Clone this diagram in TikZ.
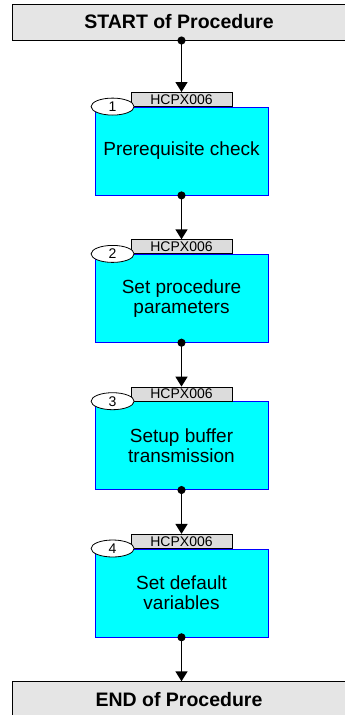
\documentclass[tikz,border=0pt]{standalone}
\usepackage{fontspec}
\setmainfont{Liberation Sans}
\usepackage{tikz}
\usetikzlibrary{arrows.meta,positioning,shapes.geometric}
\definecolor{procgray}{RGB}{229,229,229}
\definecolor{taggray}{RGB}{220,220,220}
\definecolor{stepcyan}{RGB}{0,255,255}
\definecolor{stepblue}{RGB}{0,0,255}

\begin{document}
\begin{tikzpicture}[x=1pt, y=1pt,
          endbox/.style={draw=black, fill=procgray, line width=1pt,
                         minimum width=334pt, minimum height=36pt,
                         font=\fontsize{19.5}{21}\selectfont\bfseries},
          stepbox/.style={draw=stepblue, fill=stepcyan, line width=0.8pt,
                          minimum width=173pt, minimum height=88pt, align=center,
                          font=\fontsize{19}{20}\selectfont},
          tag/.style={draw=black, fill=taggray, line width=0.6pt, inner sep=0pt,
                      minimum width=101pt, minimum height=14pt,
                      font=\fontsize{14}{14}\selectfont},
          num/.style={ellipse, draw=black, fill=white, line width=0.8pt, inner sep=0pt,
                      minimum width=43pt, minimum height=17pt,
                      font=\fontsize{14}{14}\selectfont},
          arr/.style={{Circle[length=8pt]}-{Triangle[length=10pt, width=12pt]},
                      shorten <=-4pt, line width=1.6pt}
        ]
          \useasboundingbox (0,0) rectangle (345,-715);
          \node[endbox] (start) at (179,-22) {START of Procedure};
          \node[stepbox] (step1) at (181.5,-151) {Prerequisite check};
          \node[stepbox, below=58.5pt of step1] (step2) {Set procedure\\parameters};
          \node[stepbox, below=58.5pt of step2] (step3) {Setup buffer\\transmission};
          \node[stepbox, below=58.5pt of step3] (step4) {Set default\\variables};
          \node[endbox, below=44pt of step4.south -| start] (end) {END of Procedure};
          \node[tag, above=0pt of step1] (tag1) {HCPX006};
          \node[tag, above=0pt of step2] (tag2) {HCPX006};
          \node[tag, above=0pt of step3] (tag3) {HCPX006};
          \node[tag, above=0pt of step4] (tag4) {HCPX006};
          \node[num, xshift=18pt] (num1) at (step1.north west) {1};
          \node[num, xshift=18pt] (num2) at (step2.north west) {2};
          \node[num, xshift=18pt] (num3) at (step3.north west) {3};
          \node[num, xshift=18pt] (num4) at (step4.north west) {4};
          \draw[arr] (start.south -| tag1.north) -- (tag1);
          \draw[arr] (step1) -- (tag2);
          \draw[arr] (step2) -- (tag3);
          \draw[arr] (step3) -- (tag4);
          \draw[arr] (step4) -- (end.north -| step4.south);
        \end{tikzpicture}
\end{document}
